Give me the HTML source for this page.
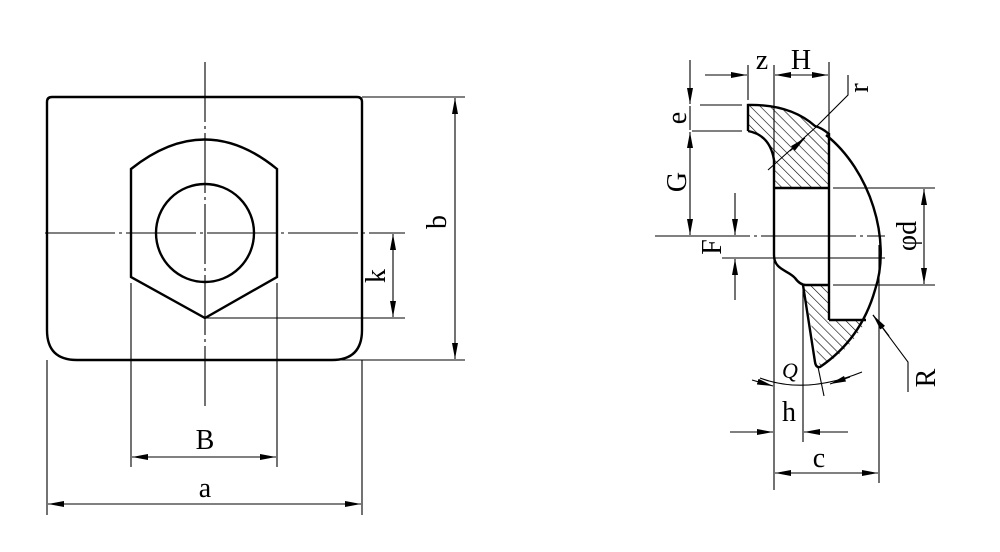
<!DOCTYPE html>
<html><head><meta charset="utf-8"><style>
html,body{margin:0;padding:0;background:#fff;}
svg{display:block;}
text{font-family:"Liberation Serif",serif;font-size:28px;fill:#000;}
</style></head><body>
<svg width="1000" height="552" viewBox="0 0 1000 552" xmlns="http://www.w3.org/2000/svg">
<defs>
<marker id="a" viewBox="0 0 16 6" refX="16" refY="3" markerWidth="16" markerHeight="6" markerUnits="userSpaceOnUse" orient="auto-start-reverse"><path d="M0,0 L16,3 L0,6 Z" fill="#000"/></marker>
<pattern id="h" patternUnits="userSpaceOnUse" width="7" height="7" patternTransform="rotate(-45)"><line x1="0" y1="0" x2="0" y2="7" stroke="#000" stroke-width="1.2"/></pattern>
</defs>
<g fill="none" stroke="#000" stroke-width="1.1">
<!-- LEFT FIGURE -->
<path d="M52,97 L357,97 Q362,97 362,102 L362,330 Q362,360 332,360 L77,360 Q47,360 47,330 L47,102 Q47,97 52,97 Z" stroke-width="2.4"/>
<path d="M131,277 L131,169 Q205,110 277,169 L277,277 L205,318 L131,277 Z" stroke-width="2.4"/>
<circle cx="205" cy="233" r="49" stroke-width="2.4"/>
<line x1="45" y1="233" x2="405" y2="233" stroke-dasharray="70,4,3,4"/>
<line x1="205" y1="62" x2="205" y2="408" stroke-dasharray="60,4,3,4"/>
<line x1="205" y1="318" x2="405" y2="318"/>
<line x1="393" y1="234" x2="393" y2="317" marker-start="url(#a)" marker-end="url(#a)"/>
<line x1="362" y1="97" x2="465" y2="97"/>
<line x1="335" y1="360" x2="465" y2="360"/>
<line x1="455" y1="98" x2="455" y2="359" marker-start="url(#a)" marker-end="url(#a)"/>
<line x1="131" y1="283" x2="131" y2="467"/>
<line x1="277" y1="283" x2="277" y2="467"/>
<line x1="132" y1="457" x2="276" y2="457" marker-start="url(#a)" marker-end="url(#a)"/>
<line x1="47" y1="360" x2="47" y2="515"/>
<line x1="362" y1="360" x2="362" y2="515"/>
<line x1="48" y1="504" x2="361" y2="504" marker-start="url(#a)" marker-end="url(#a)"/>

<!-- RIGHT FIGURE -->
<path d="M748,105 Q790,104 815,126 Q822,128 829,136 L829,188 L774,188 L774,160 Q770,135 748,131 Z" fill="url(#h)" stroke="none"/>
<path d="M803,285 L829,285 L829,320 L866,320 C856,340 840,357 820,367 L803,285 Z" fill="url(#h)" stroke="none"/>
<path d="M748,131 L748,105 Q790,104 815,126 Q822,128 829,134" stroke-width="2.4"/>
<path d="M826,135 C870,170 892,240 875,290 C865,325 845,350 820,367 Q816,368 815,362 L803,285" stroke-width="2.4"/>
<path d="M748,131 Q770,135 774,160 L774,255 C774,270 788,270 795,278 Q800,285 806,285 L829,285" stroke-width="2.4"/>
<line x1="829" y1="133" x2="829" y2="320" stroke-width="2.4"/>
<line x1="829" y1="320" x2="866" y2="320" stroke-width="2.4"/>
<line x1="774" y1="188" x2="829" y2="188" stroke-width="2.4"/>
<!-- dims -->
<line x1="748" y1="65" x2="748" y2="100"/>
<line x1="774" y1="65" x2="774" y2="490"/>
<line x1="829" y1="62" x2="829" y2="133"/>
<line x1="705" y1="75" x2="747" y2="75" marker-end="url(#a)"/>
<line x1="775" y1="75" x2="828" y2="75" marker-start="url(#a)" marker-end="url(#a)"/>
<line x1="700" y1="105" x2="742" y2="105"/>
<line x1="692" y1="131" x2="742" y2="131"/>
<line x1="690" y1="60" x2="690" y2="104" marker-end="url(#a)"/>
<line x1="690" y1="106" x2="690" y2="130" />
<line x1="690" y1="132" x2="690" y2="235" marker-start="url(#a)" marker-end="url(#a)"/>
<line x1="655" y1="236" x2="885" y2="236" stroke-dasharray="95,4,3,4"/>
<line x1="722" y1="258" x2="885" y2="258"/>
<line x1="735" y1="193" x2="735" y2="235" marker-end="url(#a)"/>
<line x1="735" y1="300" x2="735" y2="259" marker-end="url(#a)"/>
<line x1="833" y1="188" x2="935" y2="188"/>
<line x1="833" y1="285" x2="935" y2="285"/>
<line x1="924" y1="189" x2="924" y2="284" marker-start="url(#a)" marker-end="url(#a)"/>
<line x1="768" y1="170" x2="815" y2="128"/>
<path d="M815,128 L848,95 L848,75"/>
<line x1="805" y1="138" x2="790" y2="151" marker-start="url(#a)"/>
<path d="M873,315 L908,362 L908,392"/>
<line x1="889" y1="336" x2="873" y2="315" marker-end="url(#a)"/>
<path d="M760,378 Q805,395 862,372"/>
<line x1="752" y1="380" x2="773" y2="386" marker-end="url(#a)"/>
<line x1="850" y1="377" x2="830" y2="384" marker-end="url(#a)"/>
<line x1="818" y1="367" x2="824" y2="396"/>
<line x1="803" y1="285" x2="803" y2="442"/>
<line x1="730" y1="432" x2="773" y2="432" marker-end="url(#a)"/>
<line x1="848" y1="432" x2="804" y2="432" marker-end="url(#a)"/>
<line x1="879" y1="245" x2="879" y2="483"/>
<line x1="775" y1="473" x2="878" y2="473" marker-start="url(#a)" marker-end="url(#a)"/>
</g>
<g>
<text x="205" y="449" text-anchor="middle">B</text>
<text x="205" y="497" text-anchor="middle">a</text>
<text transform="translate(385,276) rotate(-90)" text-anchor="middle">k</text>
<text transform="translate(446,222) rotate(-90)" text-anchor="middle">b</text>
<text x="762" y="69" text-anchor="middle">z</text>
<text x="801" y="69" text-anchor="middle">H</text>
<text transform="translate(686,118) rotate(-90)" text-anchor="middle">e</text>
<text transform="translate(686,182) rotate(-90)" text-anchor="middle">G</text>
<text transform="translate(721,247) rotate(-90)" text-anchor="middle">F</text>
<text transform="translate(916,236) rotate(-90)" text-anchor="middle">φd</text>
<text transform="translate(868,88) rotate(-90)" text-anchor="middle">r</text>
<text transform="translate(935,378) rotate(-90)" text-anchor="middle">R</text>
<text x="790" y="378" text-anchor="middle" font-style="italic" style="font-size:22px">Q</text>
<text x="789" y="421" text-anchor="middle">h</text>
<text x="819" y="467" text-anchor="middle">c</text>
</g>
</svg>
</body></html>
